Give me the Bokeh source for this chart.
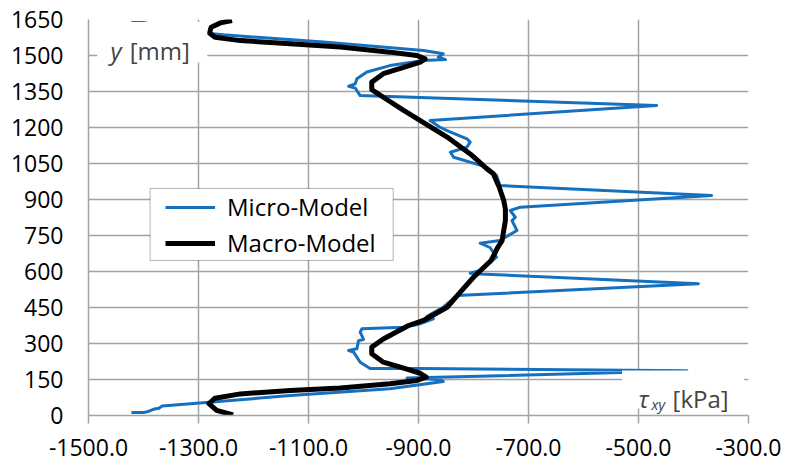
from bokeh.plotting import figure
from bokeh.models import (FixedTicker, Legend, LegendItem, BoxAnnotation, Label, Range1d)
from bokeh.embed import file_html
from bokeh.resources import INLINE

# ---- data ----
x_ticks = [-1500, -1300, -1100, -900, -700, -500, -300]
x_tick_labels = ["-1500.0", "-1300.0", "-1100.0", "-900.0", "-700.0", "-500.0", "-300.0"]
y_ticks = [0, 150, 300, 450, 600, 750, 900, 1050, 1200, 1350, 1500, 1650]
y_tick_labels = ["0", "150", "300", "450", "600", "750", "900", "1050", "1200", "1350", "1500", "1650"]

micro_tau = [-1422, -1400, -1390, -1382, -1372, -1366, -1315, -1133, -952, -855, -864, -921,
             -412, -900, -988, -1006, -1018, -1027, -1012, -1009, -1000, -1006, -1003, -927,
             -900, -873, -885, -870, -855, -830, -391, -788, -806, -788, -758, -770, -788,
             -752, -721, -730, -724, -733, -715, -367, -752, -758, -764, -776, -836, -842,
             -812, -806, -812, -848, -861, -879, -467, -1006, -1015, -1027, -1015, -1012,
             -994, -952, -891, -851, -864, -855, -891, -1073, -1255, -1303, -1366, -1372,
             -1382, -1390, -1400, -1422]
micro_y = [12, 12, 18, 26, 30, 40, 49, 83, 111, 142, 150, 156,
           186, 196, 196, 222, 264, 271, 278, 312, 317, 347, 361, 368,
           380, 403, 412, 432, 451, 500, 549, 590, 593, 604, 660, 700, 718,
           729, 771, 812, 826, 854, 868, 917, 958, 1000, 1012, 1035, 1076, 1097,
           1118, 1139, 1153, 1187, 1201, 1229, 1292, 1333, 1364, 1372, 1382, 1403,
           1431, 1458, 1479, 1483, 1493, 1507, 1521, 1556, 1586, 1597, 1610, 1620,
           1624, 1632, 1638, 1638]

macro_tau = [-1237, -1267, -1281, -1270, -1224, -1133, -1042, -952, -903, -886, -897, -927,
             -964, -985, -985, -964, -918, -891, -848, -824, -800, -768, -756, -748, -745,
             -742, -742, -745, -753, -764, -776, -792, -806, -848, -927, -964, -985, -985,
             -964, -927, -897, -888, -903, -952, -1042, -1133, -1224, -1270, -1280, -1277,
             -1260, -1239]
macro_y = [2, 21, 49, 72, 90, 104, 115, 132, 146, 160, 176, 197,
           222, 257, 285, 319, 375, 396, 451, 514, 576, 646, 700, 729, 771,
           812, 860, 896, 950, 1007, 1028, 1062, 1090, 1160, 1271, 1326, 1358, 1389,
           1424, 1451, 1472, 1486, 1500, 1514, 1535, 1549, 1562, 1576, 1594, 1618,
           1636, 1646]

series_names = ["Micro-Model", "Macro-Model"]

FONT = "Open Sans"
GRID = "#a3a3a3"

p = figure(frame_width=660, frame_height=396,
           min_border_left=88, min_border_right=40, min_border_top=19, min_border_bottom=54,
           x_range=Range1d(-1500, -300), y_range=Range1d(0, 1650),
           output_backend="svg", toolbar_location=None,
           background_fill_color="white", border_fill_color="white")
p.outline_line_color = None

# axes
p.xaxis.ticker = FixedTicker(ticks=x_ticks)
p.yaxis.ticker = FixedTicker(ticks=y_ticks)
p.xaxis.major_label_overrides = dict(zip(x_ticks, x_tick_labels))
p.yaxis.major_label_overrides = dict(zip(y_ticks, y_tick_labels))
for ax in (p.xaxis, p.yaxis):
    ax.axis_line_color = GRID
    ax.axis_line_width = 1.5
    ax.major_tick_line_color = GRID
    ax.major_tick_line_width = 1.5
    ax.minor_tick_line_color = None
    ax.major_label_text_font = FONT
    ax.major_label_text_font_size = "23px"
    ax.major_label_text_color = "black"
p.xaxis.major_tick_in = 0
p.xaxis.major_tick_out = 8
p.xaxis.major_label_standoff = 15
p.yaxis.major_tick_in = 0
p.yaxis.major_tick_out = 0
p.yaxis.major_label_standoff = 25

p.xgrid.ticker = FixedTicker(ticks=x_ticks)
p.ygrid.ticker = FixedTicker(ticks=y_ticks)
p.grid.grid_line_color = GRID
p.grid.grid_line_width = 1.5

r_micro = p.line(micro_tau, micro_y, line_color="#1570c0", line_width=3, line_join="round")
r_macro = p.line(macro_tau, macro_y, line_color="black", line_width=5, line_join="round")

# white boxes behind the axis titles and legend
p.add_layout(BoxAnnotation(left=-1484, right=-1284, bottom=1471, top=1640,
                           fill_color="white", fill_alpha=1, line_color=None))
p.add_layout(BoxAnnotation(left=-530, right=-308, bottom=29, top=187,
                           fill_color="white", fill_alpha=1, line_color=None))
p.add_layout(BoxAnnotation(left=-1388, right=-946, bottom=646, top=946,
                           fill_color="white", fill_alpha=1, line_color="black", line_width=1))

# axis titles
p.add_layout(Label(x=-1460, y=1521, text="y", text_font=FONT, text_font_size="24px",
                   text_font_style="italic", text_baseline="alphabetic"))
p.add_layout(Label(x=-1425, y=1521, text="[mm]", text_font=FONT, text_font_size="24px",
                   text_baseline="alphabetic"))
p.add_layout(Label(x=-500, y=71, text="τ", text_font=FONT, text_font_size="24px",
                   text_font_style="italic", text_baseline="alphabetic"))
p.add_layout(Label(x=-477, y=48, text="xy", text_font=FONT, text_font_size="15px",
                   text_font_style="italic", text_baseline="alphabetic"))
p.add_layout(Label(x=-438, y=71, text="[kPa]", text_font=FONT, text_font_size="24px",
                   text_baseline="alphabetic"))

legend = Legend(items=[LegendItem(label=series_names[0], renderers=[r_micro]),
                       LegendItem(label=series_names[1], renderers=[r_macro])],
                location=(77, 156), label_text_font=FONT, label_text_font_size="24px",
                label_text_color="black",
                glyph_width=50, glyph_height=30, label_height=30, label_standoff=12,
                spacing=3, padding=5, margin=0, border_line_color=None,
                background_fill_alpha=0)
p.add_layout(legend, "center")

open("out.html", "w").write(file_html(p, INLINE))
